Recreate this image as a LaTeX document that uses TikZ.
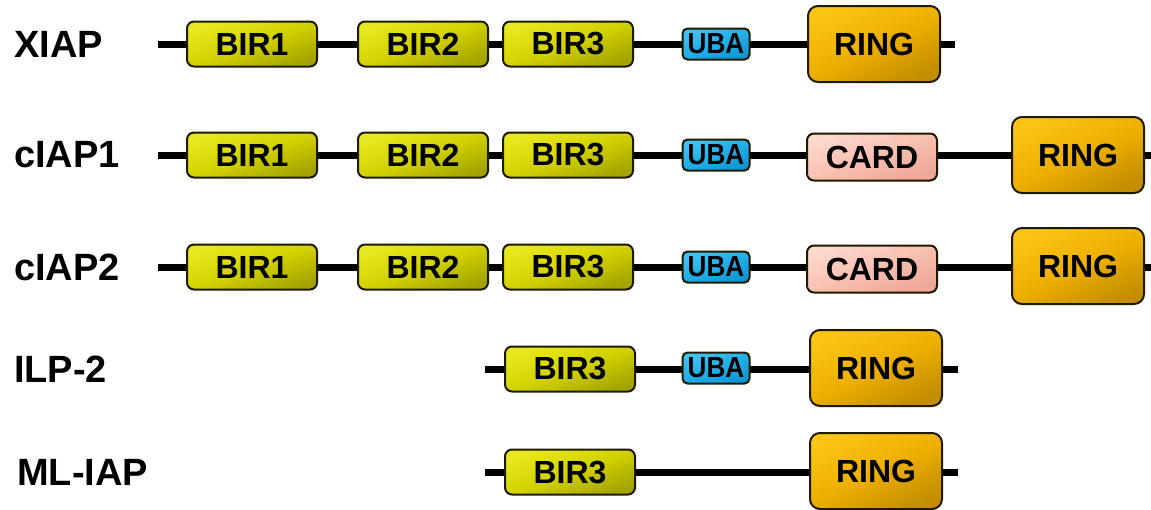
\documentclass[tikz,border=0pt]{standalone}
\usepackage{fontspec}
\setmainfont{Liberation Sans}
\usetikzlibrary{backgrounds}

\definecolor{birA}{HTML}{E8E820}
\definecolor{birM}{HTML}{D2D200}
\definecolor{birB}{HTML}{A4A400}
\definecolor{ringA}{HTML}{FAC414}
\definecolor{ringM}{HTML}{EEB000}
\definecolor{ringB}{HTML}{C48E00}
\definecolor{ubaA}{HTML}{40C2F2}
\definecolor{ubaM}{HTML}{22AEE8}
\definecolor{ubaB}{HTML}{0E96D4}
\definecolor{cardA}{HTML}{FDD8CC}
\definecolor{cardM}{HTML}{F8C0B2}
\definecolor{cardB}{HTML}{EEA696}
\definecolor{edge}{HTML}{1E1A00}

\tikzset{
  dombox/.style={draw=edge, line width=2pt, inner sep=0pt,
    font=\bfseries\fontsize{32}{32}\selectfont, text=black},
  bir/.style={dombox, rounded corners=7pt, minimum width=130pt, minimum height=45pt,
    top color=birA, bottom color=birB, middle color=birM, shading angle=20},
  ring/.style={dombox, rounded corners=10pt, minimum width=132pt, minimum height=76pt,
    top color=ringA, bottom color=ringB, middle color=ringM, shading angle=25},
  uba/.style={dombox, rounded corners=5pt, minimum width=67pt, minimum height=31pt,
    top color=ubaA, bottom color=ubaB, middle color=ubaM, shading angle=20,
    font=\bfseries\fontsize{29}{29}\selectfont},
  card/.style={dombox, rounded corners=7pt, minimum width=130pt, minimum height=47pt,
    top color=cardA, bottom color=cardB, middle color=cardM, shading angle=20},
  protein/.style={anchor=west, inner sep=0pt, font=\bfseries\fontsize{38}{38}\selectfont},
  backbone/.style={line width=7pt, black}
}

\begin{document}
\begin{tikzpicture}[x=1pt, y=-1pt]
\useasboundingbox (0,0) rectangle (1151,509);

% XIAP
\node[protein] (l1) at (14,44) {XIAP};
\coordinate (s1) at (158,44);
\node[bir]  (a1) at (252,44) {BIR1};
\node[bir]  (b1) at (423,44) {BIR2};
\node[bir]  (c1) at (568,44) {BIR3};
\node[uba]  (u1) at (716,44) {\scalebox{0.9}[1]{UBA}};
\node[ring] (r1) at (874,44) {RING};
\coordinate (e1) at (955,44);

% cIAP1
\node[protein] (l2) at (14,155) {cIAP1};
\coordinate (s2) at (158,155);
\node[bir]  (a2) at (252,155) {BIR1};
\node[bir]  (b2) at (423,155) {BIR2};
\node[bir]  (c2) at (568,155) {BIR3};
\node[uba]  (u2) at (716,155) {\scalebox{0.9}[1]{UBA}};
\node[card] (d2) at (872,157) {CARD};
\node[ring] (r2) at (1078,155) {RING};
\coordinate (e2) at (1151,155);

% cIAP2
\node[protein] (l3) at (14,267) {cIAP2};
\coordinate (s3) at (158,267);
\node[bir]  (a3) at (252,267) {BIR1};
\node[bir]  (b3) at (423,267) {BIR2};
\node[bir]  (c3) at (568,267) {BIR3};
\node[uba]  (u3) at (716,267) {\scalebox{0.9}[1]{UBA}};
\node[card] (d3) at (872,269) {CARD};
\node[ring] (r3) at (1078,266) {RING};
\coordinate (e3) at (1151,267);

% ILP-2
\node[protein] (l4) at (14,369) {ILP-2};
\coordinate (s4) at (485,369);
\node[bir]  (c4) at (570,369) {BIR3};
\node[uba]  (u4) at (716,368) {\scalebox{0.9}[1]{UBA}};
\node[ring] (r4) at (876,368) {RING};
\coordinate (e4) at (958,369);

% ML-IAP
\node[protein] (l5) at (17,472) {ML-IAP};
\coordinate (s5) at (485,472);
\node[bir]  (c5) at (570,472) {BIR3};
\node[ring] (r5) at (876,471) {RING};
\coordinate (e5) at (958,472);

% backbones behind the domains
\begin{scope}[on background layer]
  \draw[backbone] (s1) -- (e1);
  \draw[backbone] (s2) -- (e2);
  \draw[backbone] (s3) -- (e3);
  \draw[backbone] (s4) -- (e4);
  \draw[backbone] (s5) -- (e5);
\end{scope}
\end{tikzpicture}
\end{document}
